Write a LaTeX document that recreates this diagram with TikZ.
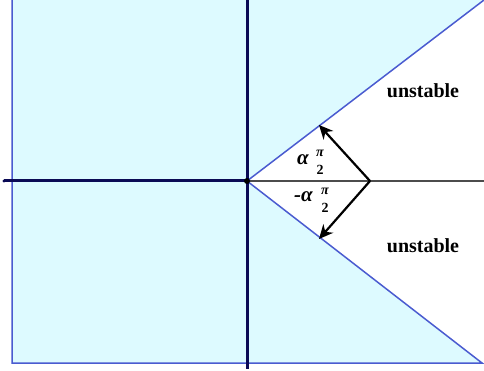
\documentclass[tikz,border=0pt]{standalone}
\usepackage{fontspec}
\setmainfont{Liberation Serif}
\usetikzlibrary{arrows.meta}
\definecolor{fillcyan}{HTML}{DDFAFF}
\definecolor{edgeblue}{HTML}{4A5BD0}
\definecolor{axisnavy}{HTML}{0A0A55}
\tikzset{
  axisline/.style={draw=axisnavy, line width=3pt},
  edgeline/.style={draw=edgeblue, line width=1.5pt},
  rightaxis/.style={draw=black!70, line width=1.8pt},
  arrowline/.style={draw=black, line width=2.2pt, -{Stealth[length=14pt,width=13pt,inset=4.5pt]}},
  bigtext/.style={inner sep=0pt, font=\fontsize{20}{22}\selectfont\bfseries},
  greektext/.style={inner sep=0pt, font=\fontsize{21}{23}\selectfont\bfseries\itshape},
  pitext/.style={inner sep=0pt, font=\fontsize{14}{15}\selectfont\bfseries\itshape},
  twotext/.style={inner sep=0pt, font=\fontsize{14}{15}\selectfont\bfseries}
}
\begin{document}
\begin{tikzpicture}[x=1pt,y=-1pt]
\useasboundingbox (0,0) rectangle (484,371);
\coordinate (O) at (247,181);
\coordinate (TR) at (484,0);
\coordinate (BR) at (482,363);
\coordinate (TL) at (12,0);
\coordinate (BL) at (12,363);
\coordinate (P) at (370,181);
\coordinate (A1) at (319,125);
\coordinate (A2) at (319,239);
\fill[fillcyan] (TL) -- (TR) -- (O) -- (BR) -- (BL) -- cycle;
\draw[edgeline] (TL) -- (BL) -- (BR) -- (O) -- (TR);
\draw[rightaxis] (O) -- (484,181);
\draw[axisline] (4,181) -- (O);
\draw[axisline] (247,0) -- (247,369);
\fill[black] (O) circle (3pt);
\fill[axisnavy] (4,181) circle (1.6pt);
\draw[arrowline] (P) -- (A1);
\draw[arrowline] (P) -- (A2);
\node[bigtext] (u1) at (423,91) {unstable};
\node[bigtext] (u2) at (423,246) {unstable};
\node[greektext] (a1) at (303,160) {α};
\node[pitext] (p1) at (320,153.5) {π};
\node[twotext] (d1) at (320,169.5) {2};
\node[greektext] (a2) at (303.5,197) {-α};
\node[pitext] (p2) at (325,191) {π};
\node[twotext] (d2) at (325,207.5) {2};
\end{tikzpicture}
\end{document}
